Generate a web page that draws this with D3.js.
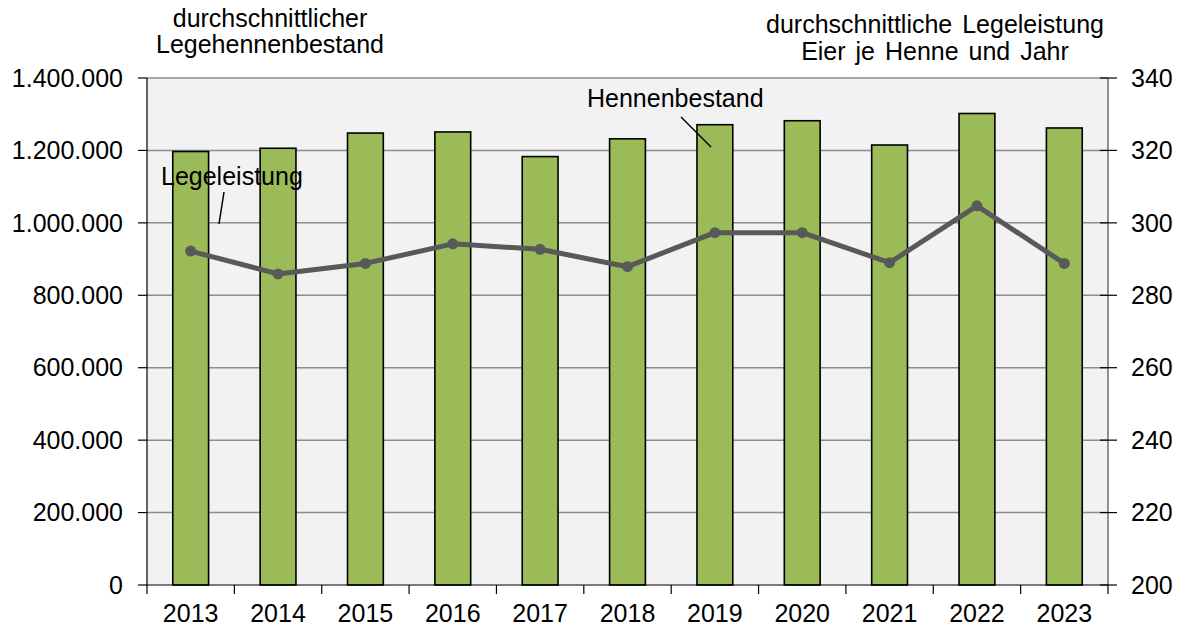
<!DOCTYPE html>
<html>
<head>
<meta charset="utf-8">
<script src="https://cdn.jsdelivr.net/npm/d3@7"></script>
<style>
	body { margin: 0; background: #fff; }
	svg { font-family: "Liberation Sans", Arial, sans-serif; }
	text { fill: #000; }
</style>
</head>
<body>
<svg id="chart" width="1184" height="630"></svg>
<script>
// data
const years = ["2013", "2014", "2015", "2016", "2017", "2018", "2019", "2020", "2021", "2022", "2023"];
const hennen = [1197000, 1206000, 1248000, 1251000, 1183000, 1232000, 1271000, 1282000, 1215000, 1302000, 1262000];
const legeleistung = [292.2, 285.9, 288.8, 294.2, 292.7, 287.9, 297.3, 297.3, 289.0, 304.7, 288.8];
const leftTicks = [0, 200000, 400000, 600000, 800000, 1000000, 1200000, 1400000];
const rightTicks = [200, 220, 240, 260, 280, 300, 320, 340];

const svg = d3.select("#chart");
const m = { left: 147, right: 1108, top: 78, bottom: 585 };
const FS = 25;

const x = d3.scaleBand().domain(years).range([m.left, m.right]).paddingInner(0.59).paddingOuter(0.295);
const yL = d3.scaleLinear().domain([0, 1400000]).range([m.bottom, m.top]);
const yR = d3.scaleLinear().domain([200, 340]).range([m.bottom, m.top]);

const fmt = d => d3.format(",")(d).replace(/,/g, ".");

// plot background
svg.append("rect")
	.attr("x", m.left).attr("y", m.top)
	.attr("width", m.right - m.left).attr("height", m.bottom - m.top)
	.attr("fill", "#f2f2f2");

// gridlines
svg.append("g")
	.selectAll("line")
	.data(leftTicks.slice(1))
	.enter().append("line")
	.attr("x1", m.left).attr("x2", m.right)
	.attr("y1", d => yL(d)).attr("y2", d => yL(d))
	.attr("stroke", "#8c8c8c")
	.attr("stroke-width", 1.5);

// bars
svg.append("g")
	.selectAll("rect")
	.data(years)
	.enter().append("rect")
	.attr("x", d => x(d))
	.attr("width", x.bandwidth())
	.attr("y", (d, i) => yL(hennen[i]))
	.attr("height", (d, i) => m.bottom - yL(hennen[i]))
	.attr("fill", "#9bbb59")
	.attr("stroke", "#000")
	.attr("stroke-width", 1.6);

// left axis
const left = svg.append("g");
left.append("line")
	.attr("x1", m.left).attr("x2", m.left)
	.attr("y1", m.top).attr("y2", m.bottom)
	.attr("stroke", "#000").attr("stroke-width", 1.2);
left.selectAll("line.tick")
	.data(leftTicks)
	.enter().append("line")
	.attr("class", "tick")
	.attr("x1", m.left - 9).attr("x2", m.left)
	.attr("y1", d => yL(d)).attr("y2", d => yL(d))
	.attr("stroke", "#000").attr("stroke-width", 1.2);
left.selectAll("text")
	.data(leftTicks)
	.enter().append("text")
	.attr("x", m.left - 24)
	.attr("y", d => yL(d))
	.attr("dy", "0.35em")
	.attr("text-anchor", "end")
	.attr("font-size", FS)
	.text(fmt);

// right axis
const right = svg.append("g");
right.append("line")
	.attr("x1", m.right).attr("x2", m.right)
	.attr("y1", m.top).attr("y2", m.bottom)
	.attr("stroke", "#6e6e6e").attr("stroke-width", 1.5);
right.selectAll("line.tick")
	.data(rightTicks)
	.enter().append("line")
	.attr("class", "tick")
	.attr("x1", m.right - 8).attr("x2", m.right + 9)
	.attr("y1", d => yR(d)).attr("y2", d => yR(d))
	.attr("stroke", "#000").attr("stroke-width", 1.2);
right.selectAll("text")
	.data(rightTicks)
	.enter().append("text")
	.attr("x", m.right + 23)
	.attr("y", d => yR(d))
	.attr("dy", "0.35em")
	.attr("font-size", FS)
	.text(d => d);

// bottom axis
const bottom = svg.append("g");
bottom.append("line")
	.attr("x1", m.left).attr("x2", m.right)
	.attr("y1", m.bottom).attr("y2", m.bottom)
	.attr("stroke", "#000").attr("stroke-width", 1.2);
const step = x.step();
bottom.selectAll("line.tick")
	.data(d3.range(years.length + 1))
	.enter().append("line")
	.attr("class", "tick")
	.attr("x1", i => m.left + i * step).attr("x2", i => m.left + i * step)
	.attr("y1", m.bottom).attr("y2", m.bottom + 9)
	.attr("stroke", "#000").attr("stroke-width", 1.2);
bottom.selectAll("text")
	.data(years)
	.enter().append("text")
	.attr("x", d => x(d) + x.bandwidth() / 2)
	.attr("y", 622)
	.attr("text-anchor", "middle")
	.attr("font-size", FS)
	.text(d => d);

// line
const line = d3.line()
	.x((d, i) => x(years[i]) + x.bandwidth() / 2)
	.y(d => yR(d));
svg.append("path")
	.datum(legeleistung)
	.attr("d", line)
	.attr("fill", "none")
	.attr("stroke", "#595959")
	.attr("stroke-width", 5)
	.attr("stroke-linejoin", "round");
svg.append("g")
	.selectAll("circle")
	.data(legeleistung)
	.enter().append("circle")
	.attr("cx", (d, i) => x(years[i]) + x.bandwidth() / 2)
	.attr("cy", d => yR(d))
	.attr("r", 5.5)
	.attr("fill", "#595959");

// annotations
svg.append("text").attr("x", 161).attr("y", 185).attr("font-size", FS).text("Legeleistung");
svg.append("line").attr("x1", 224).attr("y1", 192).attr("x2", 219).attr("y2", 224)
	.attr("stroke", "#000").attr("stroke-width", 1.5);
svg.append("text").attr("x", 587).attr("y", 107).attr("font-size", FS).text("Hennenbestand");
svg.append("line").attr("x1", 681).attr("y1", 117).attr("x2", 711).attr("y2", 147)
	.attr("stroke", "#000").attr("stroke-width", 1.5);

// axis titles
const tl = svg.append("text").attr("text-anchor", "middle").attr("font-size", FS);
tl.append("tspan").attr("x", 270).attr("y", 27).text("durchschnittlicher");
tl.append("tspan").attr("x", 270).attr("y", 53).text("Legehennenbestand");
const tr = svg.append("text").attr("text-anchor", "middle").attr("font-size", FS)
	.attr("word-spacing", 3);
tr.append("tspan").attr("x", 935).attr("y", 33).text("durchschnittliche Legeleistung");
tr.append("tspan").attr("x", 935).attr("y", 60).text("Eier je Henne und Jahr");
</script>
</body>
</html>
